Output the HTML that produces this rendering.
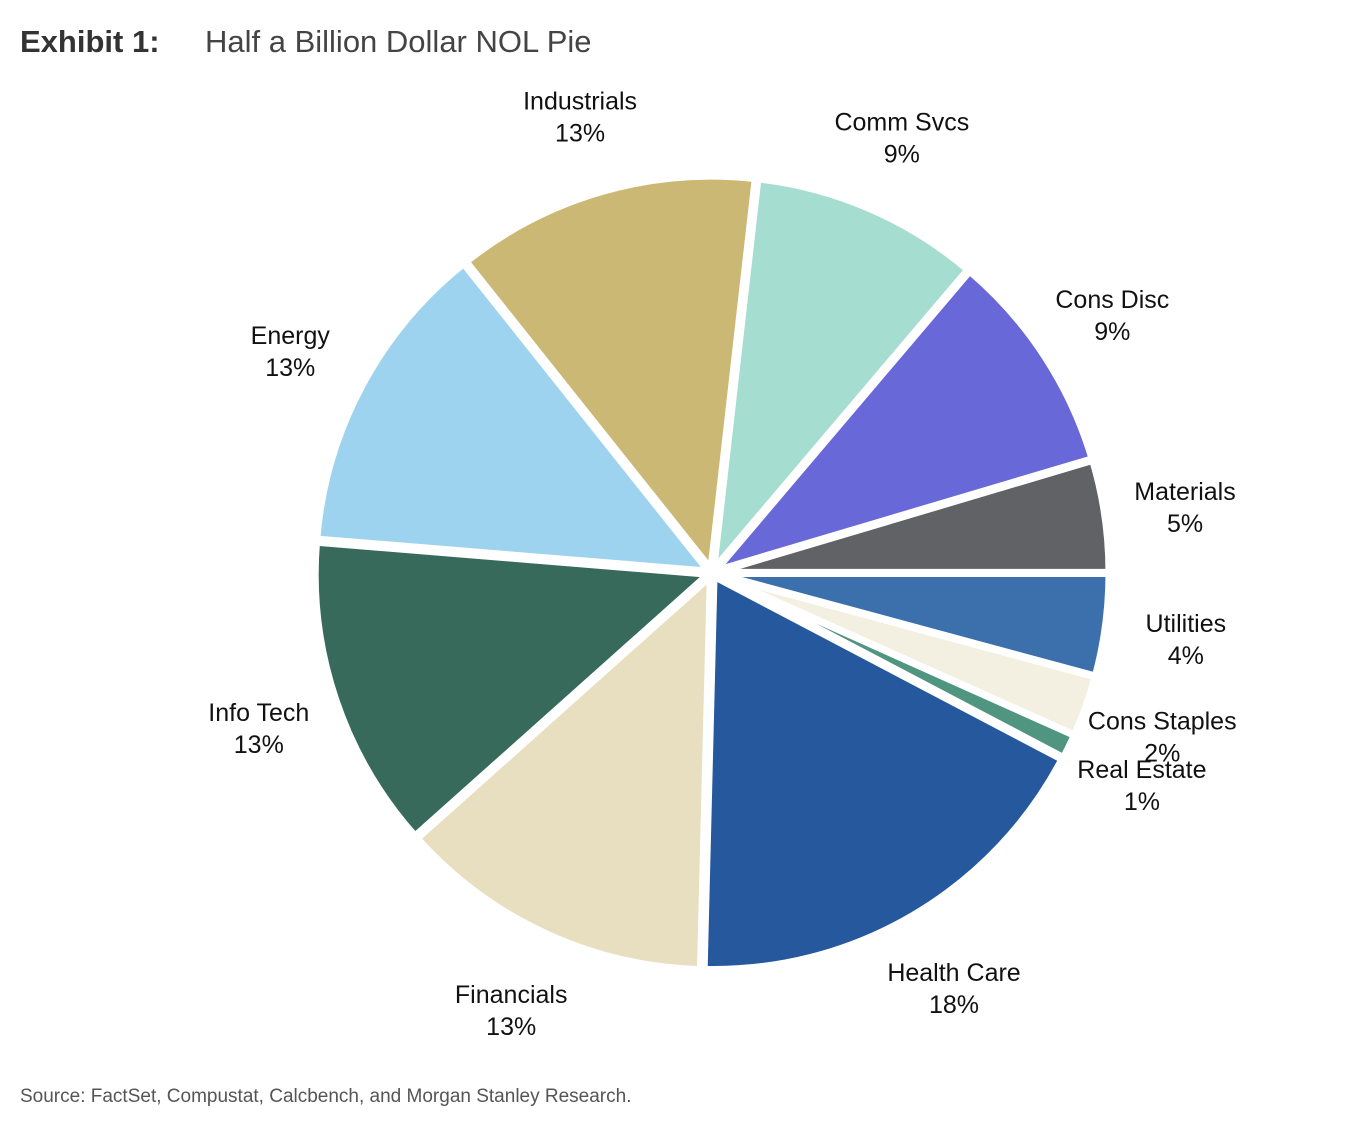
<!DOCTYPE html>
<html><head><meta charset="utf-8"><style>
body{margin:0;background:#fff;width:1364px;height:1146px;overflow:hidden;font-family:"Liberation Sans",sans-serif}
.t{position:absolute;top:24px;font-size:31px}
</style></head><body>
<div class="t" style="left:20px;font-weight:bold;color:#333">Exhibit 1:</div>
<div class="t" style="left:205px;color:#444">Half a Billion Dollar NOL Pie</div>
<svg id="pie" width="1364" height="1146" style="position:absolute;left:0;top:0"></svg>
<div style="position:absolute;left:20px;top:1086px;font-size:19px;color:#555">Source: FactSet, Compustat, Calcbench, and Morgan Stanley Research.</div>
<script>
const categories=["Materials","Cons Disc","Comm Svcs","Industrials","Energy","Info Tech","Financials","Health Care","Real Estate","Cons Staples","Utilities"];
const values=[4.6,9.2,9.4,12.5,13,12.9,13,17.7,1.0,2.5,4.2];
const labels=["5%","9%","9%","13%","13%","13%","13%","18%","1%","2%","4%"];
const colors=["#606266","#6868d8","#a5ddd0","#cbb874","#9dd3ee","#376a5a","#e7dfbf","#25589d","#4f9580","#f3f0e1","#3c70ac"];
const svg=document.getElementById('pie');const NS="http://www.w3.org/2000/svg";
const cx=712,cy=573,R=393,LR=478;
const total=values.reduce((a,b)=>a+b,0);
let acc=0;
function pt(a,r){return [cx+r*Math.cos(a),cy-r*Math.sin(a)];}
values.forEach((v,i)=>{
  const a0=acc/total*2*Math.PI;acc+=v;const a1=acc/total*2*Math.PI;
  const mid=(a0+a1)/2;const off=4;
  const ox=off*Math.cos(mid),oy=-off*Math.sin(mid);
  const p0=pt(a0,R),p1=pt(a1,R);const large=(a1-a0)>Math.PI?1:0;
  const p=document.createElementNS(NS,'path');
  p.setAttribute('d',`M${cx+ox},${cy+oy} L${p0[0]+ox},${p0[1]+oy} A${R},${R} 0 ${large} 0 ${p1[0]+ox},${p1[1]+oy} Z`);
  p.setAttribute('fill',colors[i]);p.setAttribute('stroke','#fff');p.setAttribute('stroke-width','7');p.setAttribute('stroke-linejoin','round');
  
  
  svg.appendChild(p);
  const l=pt(mid,LR);
  const g=document.createElementNS(NS,'text');
  g.setAttribute('x',l[0]);g.setAttribute('y',l[1]-4);g.setAttribute('text-anchor','middle');
  g.setAttribute('font-family','"Liberation Sans Narrow","Liberation Sans",sans-serif');g.setAttribute('font-size','25');g.setAttribute('fill','#111');
  
  
  const t1=document.createElementNS(NS,'tspan');t1.setAttribute('x',l[0]);t1.textContent=categories[i];
  const t2=document.createElementNS(NS,'tspan');t2.setAttribute('x',l[0]);t2.setAttribute('dy','32');t2.textContent=labels[i];
  g.appendChild(t1);g.appendChild(t2);svg.appendChild(g);
});
</script>
</body></html>
